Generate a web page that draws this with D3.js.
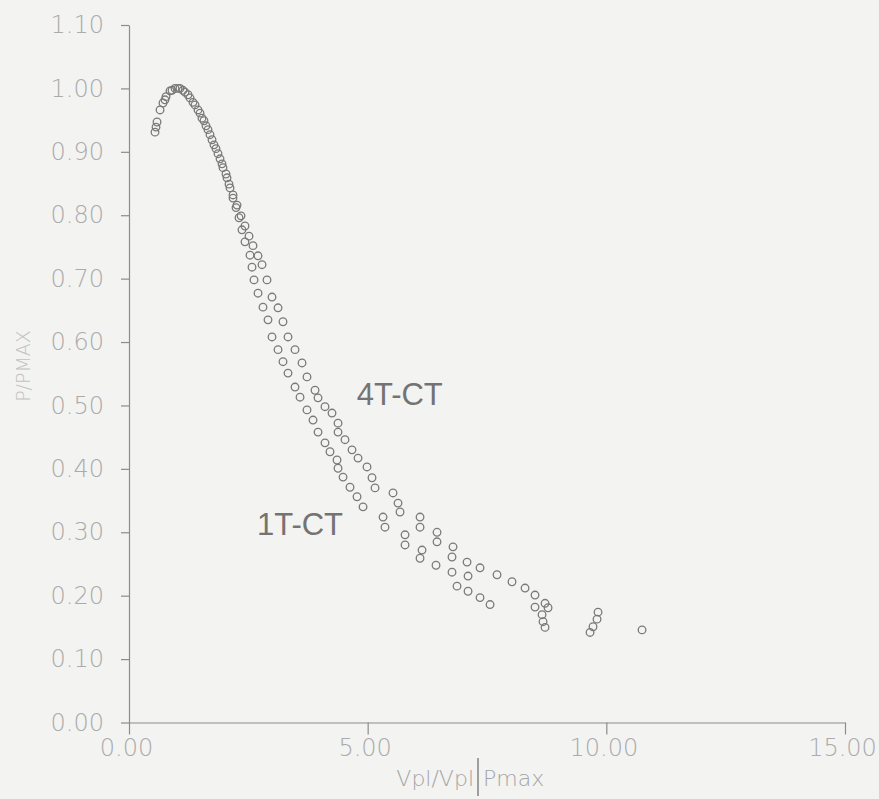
<!DOCTYPE html>
<html>
<head>
<meta charset="utf-8">
<script src="https://cdn.jsdelivr.net/npm/d3@7/dist/d3.min.js"></script>
<style>
  html, body { margin: 0; padding: 0; background: #f3f3f1; }
  svg { display: block; }
</style>
</head>
<body>
<svg id="chart" width="879" height="799"></svg>
<script>
// Normalized load vs. normalized plastic displacement, two specimen types
const xTickValues = [0, 5, 10, 15];
const xTickLabels = ["0.00", "5.00", "10.00", "15.00"];
const yTickValues = [0, 0.1, 0.2, 0.3, 0.4, 0.5, 0.6, 0.7, 0.8, 0.9, 1.0, 1.1];
const yTickLabels = ["0.00", "0.10", "0.20", "0.30", "0.40", "0.50", "0.60", "0.70", "0.80", "0.90", "1.00", "1.10"];

// 1T-CT specimen: [Vpl/Vpl|Pmax, P/Pmax]
const oneTx = [0.545, 0.587, 0.712, 0.775, 0.859, 0.964, 1.068, 1.173, 1.278, 1.383,
  1.488, 1.571, 1.655, 1.739, 1.823, 1.907, 1.969, 2.053, 2.116, 2.179,
  2.242, 2.305, 2.367, 2.430, 2.535, 2.577, 2.619, 2.703, 2.807, 2.912,
  2.996, 3.122, 3.226, 3.331, 3.478, 3.583, 3.729, 3.855, 3.960, 4.106,
  4.211, 4.358, 4.379, 4.484, 4.630, 4.777, 4.903, 5.322, 5.363, 5.783,
  5.783, 6.139, 6.097, 6.432, 6.767, 6.872, 7.103, 7.103, 7.354, 7.564,
  8.506, 8.653, 8.674, 8.716, 9.659, 9.721];
const oneTy = [0.931, 0.947, 0.977, 0.987, 0.996, 1.000, 1.000, 0.994, 0.985, 0.974,
  0.961, 0.949, 0.935, 0.919, 0.905, 0.889, 0.875, 0.859, 0.843, 0.827,
  0.812, 0.796, 0.777, 0.758, 0.737, 0.718, 0.698, 0.677, 0.655, 0.635,
  0.608, 0.588, 0.569, 0.551, 0.529, 0.513, 0.493, 0.477, 0.458, 0.441,
  0.427, 0.414, 0.401, 0.387, 0.371, 0.356, 0.340, 0.324, 0.308, 0.296,
  0.280, 0.272, 0.259, 0.248, 0.237, 0.215, 0.231, 0.207, 0.197, 0.186,
  0.182, 0.170, 0.159, 0.150, 0.142, 0.151];

// 4T-CT specimen: [Vpl/Vpl|Pmax, P/Pmax]
const fourTx = [0.566, 0.650, 0.754, 0.901, 1.027, 1.131, 1.236, 1.341, 1.446, 1.529,
  1.613, 1.697, 1.781, 1.865, 1.948, 2.032, 2.095, 2.179, 2.263, 2.347,
  2.430, 2.514, 2.598, 2.703, 2.787, 2.891, 2.996, 3.122, 3.226, 3.331,
  3.478, 3.625, 3.729, 3.897, 3.960, 4.106, 4.253, 4.379, 4.379, 4.525,
  4.672, 4.798, 4.986, 5.091, 5.154, 5.531, 5.636, 5.678, 6.097, 6.097,
  6.453, 6.453, 6.788, 6.767, 7.082, 7.354, 7.710, 8.024, 8.297, 8.506,
  8.716, 8.779, 9.826, 9.805, 10.748];
const fourTy = [0.939, 0.966, 0.982, 0.997, 1.000, 0.997, 0.990, 0.978, 0.966, 0.953,
  0.941, 0.927, 0.911, 0.897, 0.881, 0.865, 0.849, 0.832, 0.816, 0.799,
  0.783, 0.767, 0.752, 0.736, 0.722, 0.698, 0.671, 0.654, 0.632, 0.608,
  0.588, 0.567, 0.545, 0.524, 0.512, 0.498, 0.488, 0.472, 0.458, 0.446,
  0.430, 0.417, 0.403, 0.386, 0.370, 0.362, 0.346, 0.332, 0.324, 0.308,
  0.300, 0.285, 0.277, 0.261, 0.253, 0.244, 0.233, 0.222, 0.212, 0.201,
  0.188, 0.181, 0.174, 0.163, 0.146];

const seriesLabels = [
  { name: "4T-CT", x: 4.77, y: 0.50 },
  { name: "1T-CT", x: 2.68, y: 0.295 }
];

const svg = d3.select("#chart");
const plot = { left: 129, right: 845, top: 25, bottom: 722.5 };

const x = d3.scaleLinear().domain([0, 15]).range([plot.left, plot.right]);
const y = d3.scaleLinear().domain([0, 1.1]).range([plot.bottom, plot.top]);

const tickFont = "'DejaVu Sans', sans-serif";

// y axis
const yAxis = svg.append("g")
  .attr("transform", `translate(${plot.left},0)`)
  .call(d3.axisLeft(y)
    .tickValues(yTickValues)
    .tickFormat((d, i) => yTickLabels[i])
    .tickSize(8)
    .tickSizeOuter(0)
    .tickPadding(17));

// x axis
const xAxis = svg.append("g")
  .attr("transform", `translate(0,${plot.bottom})`)
  .call(d3.axisBottom(x)
    .tickValues(xTickValues)
    .tickFormat((d, i) => xTickLabels[i])
    .tickSize(12)
    .tickSizeOuter(0)
    .tickPadding(4));

[yAxis, xAxis].forEach(g => {
  g.select(".domain").attr("stroke", "#8c8c8c").attr("stroke-width", 1.2);
  g.selectAll(".tick line").attr("stroke", "#8c8c8c").attr("stroke-width", 1.2);
  g.selectAll(".tick text")
    .attr("fill", "#ababab")
    .style("font-family", tickFont)
    .style("font-size", "24px")
    .style("font-weight", "200");
});
xAxis.selectAll(".tick text").attr("dx", "-3");

// axis titles
svg.append("text")
  .attr("transform", "translate(30,366) rotate(-90)")
  .attr("text-anchor", "middle")
  .attr("fill", "#c2c2c2")
  .style("font-family", tickFont)
  .style("font-size", "19px")
  .style("font-weight", "200")
  .text("P/PMAX");

const xTitle = svg.append("g").attr("transform", "translate(0,786)");
xTitle.append("text")
  .attr("x", 474).attr("y", 0)
  .attr("text-anchor", "end")
  .attr("fill", "#a5a5a5")
  .style("font-family", tickFont)
  .style("font-size", "22px")
  .style("font-weight", "200")
  .text("Vpl/Vpl");
xTitle.append("line")
  .attr("x1", 478).attr("x2", 478)
  .attr("y1", -28).attr("y2", 10)
  .attr("stroke", "#8a8a8a").attr("stroke-width", 1.6);
xTitle.append("text")
  .attr("x", 483).attr("y", 0)
  .attr("fill", "#a5a5a5")
  .style("font-family", tickFont)
  .style("font-size", "22px")
  .style("font-weight", "200")
  .text("Pmax");

// data points: open circles
const series = [
  { xs: oneTx, ys: oneTy },
  { xs: fourTx, ys: fourTy }
];
series.forEach(s => {
  svg.append("g")
    .selectAll("circle")
    .data(d3.zip(s.xs, s.ys))
    .join("circle")
    .attr("cx", d => x(d[0]))
    .attr("cy", d => y(d[1]))
    .attr("r", 3.8)
    .attr("fill", "none")
    .attr("stroke", "#7a7a7a")
    .attr("stroke-width", 1.3);
});

// series labels
svg.append("g")
  .selectAll("text")
  .data(seriesLabels)
  .join("text")
  .attr("x", d => x(d.x))
  .attr("y", d => y(d.y))
  .attr("fill", "#737373")
  .style("font-family", "'Liberation Sans', Arial, sans-serif")
  .style("font-size", "31px")
  .text(d => d.name);
</script>
</body>
</html>
